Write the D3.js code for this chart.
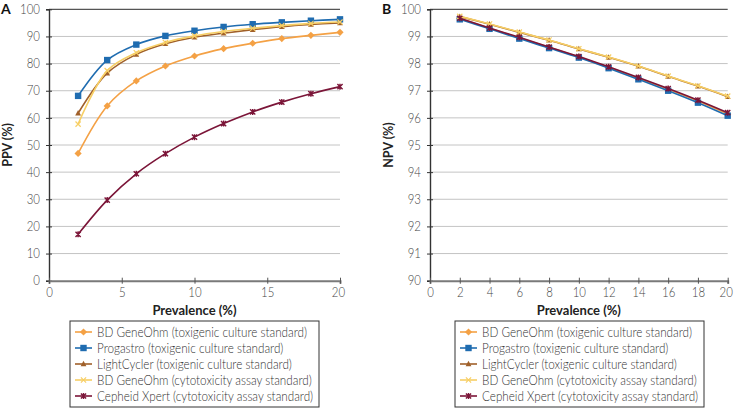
<!DOCTYPE html>
<html><head><meta charset="utf-8">
<script src="https://cdn.jsdelivr.net/npm/d3@7/dist/d3.min.js"></script>
<style>
body{margin:0;background:#fff;}
svg{display:block;font-family:Lato,"Open Sans",sans-serif;}
</style></head>
<body><svg id="c" width="734" height="408"></svg>
<script>
const prevalence = [2,4,6,8,10,12,14,16,18,20];
const seriesNames = [
  "BD GeneOhm (toxigenic culture standard)",
  "Progastro (toxigenic culture standard)",
  "LightCycler (toxigenic culture standard)",
  "BD GeneOhm (cytotoxicity assay standard)",
  "Cepheid Xpert (cytotoxicity assay standard)"
];
const seriesColors = ["#F4A145","#1F6CB0","#A0602A","#F7CF65","#7B1538"];
const seriesMarkers = ["diamond","square","triangle","cross","star"];

const ppvBDtox   = [46.9,64.4,73.6,79.1,82.8,85.5,87.5,89.2,90.4,91.5];
const ppvProg    = [68.1,81.3,87.0,90.2,92.1,93.5,94.5,95.2,95.8,96.3];
const ppvLight   = [61.7,76.5,83.4,87.3,89.7,91.2,92.5,93.6,94.4,95.0];
const ppvBDcyto  = [57.7,77.4,84.0,87.8,90.2,91.8,93.0,94.0,94.8,95.3];
const ppvCepheid = [17.1,29.7,39.4,46.8,52.9,57.9,62.2,65.8,68.9,71.5];

const npvBDtox   = [99.66,99.30,98.95,98.60,98.24,97.86,97.46,97.05,96.62,96.14];
const npvProg    = [99.63,99.28,98.92,98.57,98.22,97.83,97.42,97.00,96.56,96.08];
const npvLight   = [99.73,99.45,99.15,98.86,98.54,98.23,97.90,97.53,97.17,96.78];
const npvBDcyto  = [99.74,99.46,99.16,98.87,98.55,98.24,97.91,97.54,97.18,96.80];
const npvCepheid = [99.67,99.31,98.97,98.61,98.26,97.88,97.49,97.08,96.65,96.19];

const xTicksA = [0,5,10,15,20];
const xTicksB = [0,2,4,6,8,10,12,14,16,18,20];
const yTicksA = [0,10,20,30,40,50,60,70,80,90,100];
const yTicksB = [90,91,92,93,94,95,96,97,98,99,100];

const svg = d3.select("#c");

function marker(g, type, x, y, color){
  const s = g.append("g").attr("transform",`translate(${x},${y})`);
  if(type==="diamond"){
    s.append("path").attr("d","M0,-3.6L3.6,0L0,3.6L-3.6,0Z").attr("fill",color);
  } else if(type==="square"){
    s.append("rect").attr("x",-3.2).attr("y",-3.2).attr("width",6.4).attr("height",6.4).attr("fill",color);
  } else if(type==="triangle"){
    s.append("path").attr("d","M0,-3.2L2.9,2.3L-2.9,2.3Z").attr("fill",color);
  } else if(type==="cross"){
    s.append("path").attr("d","M-2.6,-2.6L2.6,2.6M-2.6,2.6L2.6,-2.6").attr("stroke",color).attr("stroke-width",1.2);
  } else if(type==="star"){
    s.append("path").attr("d","M-2.6,-2.6L2.6,2.6M-2.6,2.6L2.6,-2.6M0,-3L0,3").attr("stroke",color).attr("stroke-width",1.4);
  }
}

function narrowTicks(sel){
  sel.each(function(){
    const w = this.getComputedTextLength();
    d3.select(this).attr("textLength",w*0.88).attr("lengthAdjust","spacingAndGlyphs");
  });
}

function panel(opts){
  const {left,right,top,bottom,yDomain,yTicks,xTicks,data,ylabel,letter,letterX,legendX} = opts;
  const x = d3.scaleLinear().domain([0,20]).range([left,right]);
  const y = d3.scaleLinear().domain(yDomain).range([bottom,top]);
  const g = svg.append("g");
  g.selectAll(".grid").data(yTicks.slice(1)).enter().append("line")
    .attr("x1",left).attr("x2",right).attr("y1",d=>y(d)).attr("y2",d=>y(d))
    .attr("stroke",d=>d===yDomain[1]?"#555":"#c4c4c4").attr("stroke-width",d=>d===yDomain[1]?1.2:1);
  const ya = g.append("g").attr("transform",`translate(${left},0)`)
    .call(d3.axisLeft(y).tickValues(yTicks).tickSize(3).tickFormat(d3.format("d")));
  ya.select(".domain").attr("stroke","#333").attr("stroke-width",1.4);
  ya.selectAll(".tick line").attr("x2",-3).attr("x1",3).attr("stroke","#333");
  ya.selectAll(".tick text").attr("x",-9).attr("font-size",13).attr("fill","#444").attr("font-weight",300).attr("font-family","Lato");
  narrowTicks(ya.selectAll(".tick text"));
  const xa = g.append("g").attr("transform",`translate(0,${bottom})`)
    .call(d3.axisBottom(x).tickValues(xTicks).tickSize(3).tickFormat(d3.format("d")));
  xa.select(".domain").attr("stroke","#7a7a7a").attr("stroke-width",2);
  xa.selectAll(".tick line").attr("y1",-3).attr("y2",3).attr("stroke","#555");
  xa.selectAll(".tick text").attr("y",7).attr("font-size",13).attr("fill","#444").attr("font-weight",300).attr("font-family","Lato")
    .attr("dx",d=>d===20?-2:0);
  narrowTicks(xa.selectAll(".tick text"));
  g.append("text").attr("x",(left+right)/2).attr("y",315).attr("text-anchor","middle")
    .attr("font-size",13).attr("font-weight",700).attr("fill","#222").text("Prevalence (%)");
  g.append("text").attr("transform",`translate(${left-37},${(top+bottom)/2}) rotate(-90)`)
    .attr("text-anchor","middle").attr("font-size",12.5).attr("font-weight",700).attr("fill","#222").text(ylabel);
  g.append("text").attr("x",letterX).attr("y",14).attr("font-size",14).attr("font-weight",700).attr("fill","#111").text(letter);
  const line = d3.line().x((d,i)=>x(prevalence[i])).y(d=>y(d)).curve(d3.curveCatmullRom.alpha(0.5));
  data.forEach((vals,k)=>{
    g.append("path").datum(vals).attr("d",line).attr("fill","none")
      .attr("stroke",seriesColors[k]).attr("stroke-width",1.6);
    vals.forEach((v,i)=>marker(g,seriesMarkers[k],x(prevalence[i]),y(v),seriesColors[k]));
  });
  const lg = g.append("g");
  lg.append("rect").attr("x",legendX).attr("y",321).attr("width",249).attr("height",86)
    .attr("fill","#fff").attr("stroke","#333").attr("stroke-width",1);
  let ratio = null;
  seriesNames.forEach((n,k)=>{
    const yy = 332 + k*16;
    lg.append("line").attr("x1",legendX+5).attr("x2",legendX+22).attr("y1",yy).attr("y2",yy)
      .attr("stroke",seriesColors[k]).attr("stroke-width",1.6);
    marker(lg,seriesMarkers[k],legendX+13.5,yy,seriesColors[k]);
    const t = lg.append("text").attr("x",legendX+27).attr("y",yy).attr("dy","0.35em")
      .attr("font-size",13.5).attr("font-weight",300).attr("fill","#333").text(n);
    const w = t.node().getComputedTextLength();
    if(ratio===null) ratio = 210/w;
    t.attr("textLength",w*ratio).attr("lengthAdjust","spacingAndGlyphs");
  });
}

panel({left:49,right:340,top:9.3,bottom:280.7,yDomain:[0,100],yTicks:yTicksA,xTicks:xTicksA,
  data:[ppvBDtox,ppvProg,ppvLight,ppvBDcyto,ppvCepheid],ylabel:"PPV (%)",letter:"A",letterX:1,legendX:70});
panel({left:430,right:727.7,top:9.3,bottom:280.7,yDomain:[90,100],yTicks:yTicksB,xTicks:xTicksB,
  data:[npvBDtox,npvProg,npvLight,npvBDcyto,npvCepheid],ylabel:"NPV (%)",letter:"B",letterX:382,legendX:455});
</script></body></html>
